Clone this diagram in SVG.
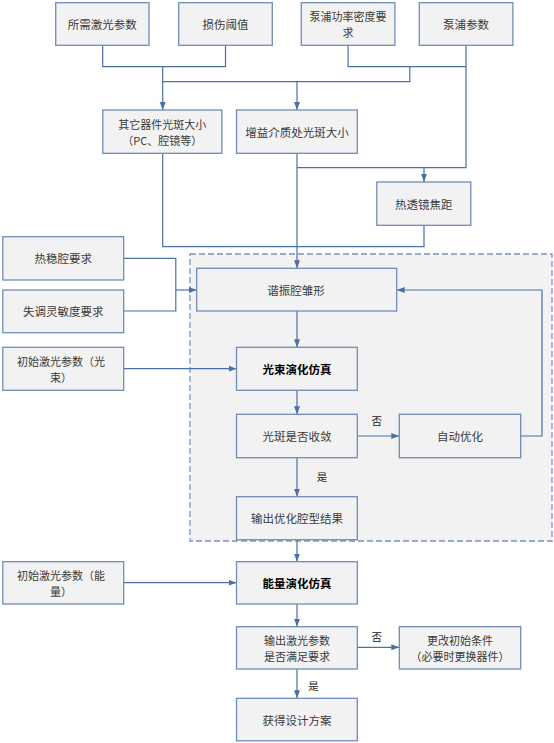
<svg xmlns="http://www.w3.org/2000/svg" width="554" height="743" viewBox="0 0 554 743">
<style>
.bg{fill:#ffffff}
.grp{fill:#f2f2f2;stroke:#7a94ba;stroke-width:1.3;stroke-dasharray:6 3}
.box{fill:#f2f2f2;stroke:#6f8db9;stroke-width:1.3}
.t{font-family:"Noto Sans CJK SC","Liberation Sans",sans-serif;font-size:11.5px;fill:#3a3a3a;text-anchor:middle;dominant-baseline:central}
.m{font-size:11px}
.b{font-weight:bold;fill:#000}
.lbl{font-family:"Noto Sans CJK SC","Liberation Sans",sans-serif;font-size:10.5px;fill:#222;text-anchor:middle;dominant-baseline:central}
.c{fill:none;stroke:#4a70a6;stroke-width:1.2}
.a{marker-end:url(#arr)}
</style>
<defs>
<marker id="arr" markerWidth="9" markerHeight="7" refX="8" refY="3" orient="auto" markerUnits="userSpaceOnUse">
<path d="M0,0 L8,3 L0,6 z" fill="#4a70a6"/>
</marker>
</defs>
<rect class="bg" x="0" y="0" width="554" height="743"/>
<rect id="group-box" class="grp" x="190" y="254" width="362" height="287"/>
<g id="connectors">
<path class="c" d="M102.7,45.3 V66.7 H225.5 V45.3"/>
<path class="c" d="M348.1,45.3 V66.7 H466"/>
<path class="c" d="M466,45.3 V167.7 H297"/>
<path class="c a" d="M162.7,66.7 V110"/>
<path class="c" d="M162.7,81.7 H409.8 V66.7"/>
<path class="c a" d="M297,81.7 V110"/>
<path class="c a" d="M424,167.7 V182"/>
<path class="c" d="M162.7,153.3 V246.7 H424 V225.3"/>
<path class="c a" d="M297,153.3 V268.3"/>
<path class="c" d="M123.7,258.3 H175.8 V311 H123.7"/>
<path class="c a" d="M175.8,290 H196.7"/>
<path class="c a" d="M297,311 V347.3"/>
<path class="c a" d="M123.7,368.7 H236.5"/>
<path class="c a" d="M297,390.3 V414.3"/>
<path class="c a" d="M357.3,436 H399.3"/>
<path class="c a" d="M520.7,436 H542 V290 H396.7"/>
<path class="c a" d="M297,457.7 V496.7"/>
<path class="c a" d="M297,539.7 V561.7"/>
<path class="c a" d="M123.7,582.7 H236.5"/>
<path class="c a" d="M297,604 V626.7"/>
<path class="c a" d="M357.3,647.3 H399.3"/>
<path class="c a" d="M297,669 V698.3"/>
<text class="lbl" x="376.8" y="420">否</text>
<text class="lbl" x="321.9" y="476">是</text>
<text class="lbl" x="376.8" y="636">否</text>
<text class="lbl" x="313.4" y="685">是</text>
</g>
<g id="n1"><rect class="box" x="55.7" y="2.7" width="93.3" height="42.6"/><text class="t" x="102.3" y="24">所需激光参数</text></g>
<g id="n2"><rect class="box" x="178.7" y="2.7" width="93.6" height="42.6"/><text class="t" x="225.5" y="24">损伤阈值</text></g>
<g id="n3"><rect class="box" x="301.3" y="2.7" width="93.6" height="42.6"/><text class="t m" x="348.1" y="16">泵浦功率密度要<tspan x="348.1" dy="16">求</tspan></text></g>
<g id="n4"><rect class="box" x="419.3" y="2.7" width="93.6" height="42.6"/><text class="t" x="466.1" y="24">泵浦参数</text></g>
<g id="n5"><rect class="box" x="102.8" y="110" width="119.1" height="43.3"/><text class="t m" x="162.3" y="123.7">其它器件光斑大小<tspan x="162.3" dy="16">（PC、腔镜等）</tspan></text></g>
<g id="n6"><rect class="box" x="236.5" y="110" width="120.8" height="43.3"/><text class="t" x="296.9" y="131.7">增益介质处光斑大小</text></g>
<g id="n7"><rect class="box" x="376.8" y="182" width="94" height="43.3"/><text class="t" x="423.8" y="203.7">热透镜焦距</text></g>
<g id="n8"><rect class="box" x="2.8" y="236.7" width="120.9" height="43.3"/><text class="t" x="63.2" y="258.3">热稳腔要求</text></g>
<g id="n9"><rect class="box" x="2.8" y="290" width="120.9" height="42.7"/><text class="t" x="63.2" y="311.3">失调灵敏度要求</text></g>
<g id="n10"><rect class="box" x="2.8" y="347.3" width="120.9" height="43"/><text class="t m" x="61" y="360.8">初始激光参数（光<tspan x="61" dy="16">束）</tspan></text></g>
<g id="n11"><rect class="box" x="196.7" y="268.3" width="200" height="42.7"/><text class="t" x="296" y="289.7">谐振腔雏形</text></g>
<g id="n12"><rect class="box" x="236.5" y="347.3" width="120.8" height="43"/><text class="t b" x="296.9" y="368.8">光束演化仿真</text></g>
<g id="n13"><rect class="box" x="236.5" y="414.3" width="120.8" height="43.4"/><text class="t" x="296.9" y="436">光斑是否收敛</text></g>
<g id="n14"><rect class="box" x="399.3" y="414.3" width="121.4" height="43.4"/><text class="t" x="460" y="436">自动优化</text></g>
<g id="n15"><rect class="box" x="236.5" y="496.7" width="120.8" height="43"/><text class="t" x="296.9" y="518.2">输出优化腔型结果</text></g>
<g id="n16"><rect class="box" x="236.5" y="561.7" width="120.8" height="42.3"/><text class="t b" x="296.9" y="582.8">能量演化仿真</text></g>
<g id="n17"><rect class="box" x="2.8" y="561.7" width="120.9" height="42.3"/><text class="t m" x="61" y="574.8">初始激光参数（能<tspan x="61" dy="16">量）</tspan></text></g>
<g id="n18"><rect class="box" x="236.5" y="626.7" width="120.8" height="42.3"/><text class="t m" x="296.9" y="639.8">输出激光参数<tspan x="296.9" dy="16">是否满足要求</tspan></text></g>
<g id="n19"><rect class="box" x="399.3" y="626.7" width="121.4" height="42.3"/><text class="t m" x="460" y="639.8">更改初始条件<tspan x="460" dy="16">（必要时更换器件）</tspan></text></g>
<g id="n20"><rect class="box" x="236.5" y="698.3" width="120.8" height="42.5"/><text class="t" x="296.9" y="719.5">获得设计方案</text></g>
</svg>
